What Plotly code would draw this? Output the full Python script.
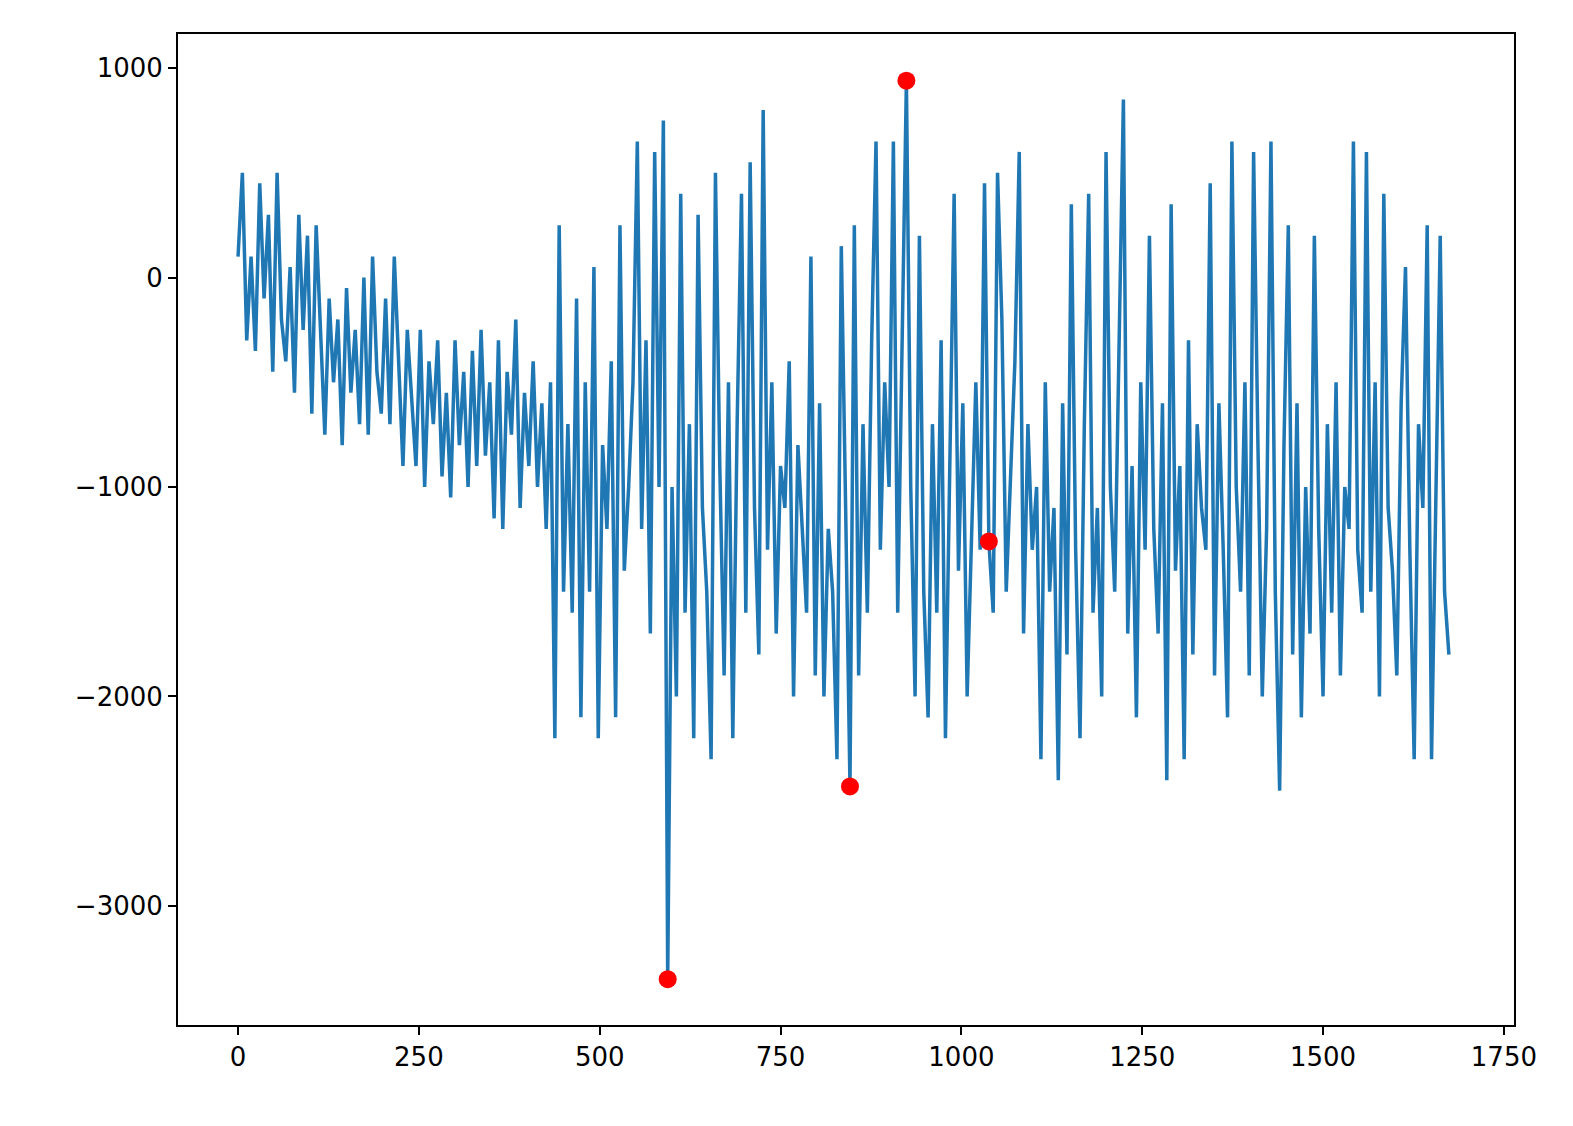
import plotly.graph_objs as go

STEP = 6
signal = [
    100, 500, -300, 100, -350, 450, -100, 300, -450, 500, -200, -400, 50, -550, 300, -250, 200, -650, 250, -300,
    -750, -100, -500, -200, -800, -50, -550, -250, -700, 0, -750, 100, -450, -650, -100, -700, 100, -400, -900, -250,
    -600, -900, -250, -1000, -400, -700, -300, -950, -550, -1050, -300, -800, -450, -1000, -350, -900, -250, -850, -500, -1150,
    -300, -1200, -450, -750, -200, -1100, -550, -900, -400, -1000, -600, -1200, -500, -2200, 250, -1500, -700, -1600, -100, -2100,
    -500, -1500, 50, -2200, -800, -1200, -400, -2100, 250, -1400, -1000, -500, 650, -1200, -300, -1700, 600, -1000, 750, -3350,
    -1000, -2000, 400, -1600, -700, -2200, 300, -1100, -1500, -2300, 500, -900, -1900, -500, -2200, -700, 400, -1600, 550, -1100,
    -1800, 800, -1300, -500, -1700, -900, -1100, -400, -2000, -800, -1200, -1600, 100, -1900, -600, -2000, -1200, -1500, -2300, 150,
    -1100, -2430, 250, -1900, -700, -1600, -300, 650, -1300, -500, -1000, 650, -1600, -300, 940, -1000, -2000, 200, -1500, -2100,
    -700, -1600, -300, -2200, -1000, 400, -1400, -600, -2000, -1200, -500, -1300, 450, -1260, -1600, 500, -200, -1500, -1000, -400,
    600, -1700, -700, -1300, -1000, -2300, -500, -1500, -1100, -2400, -600, -1800, 350, -1300, -2200, -700, 400, -1600, -1100, -2000,
    600, -1000, -1500, -400, 850, -1700, -900, -2100, -500, -1300, 200, -1200, -1700, -600, -2400, 350, -1400, -900, -2300, -300,
    -1800, -700, -1100, -1300, 450, -1900, -600, -1300, -2100, 650, -1000, -1500, -500, -1900, 600, -800, -2000, -1200, 650, -1500,
    -2450, -800, 250, -1800, -600, -2100, -1000, -1700, 200, -1200, -2000, -700, -1600, -500, -1900, -1000, -1200, 650, -1300, -1600,
    600, -1500, -500, -2000, 400, -1100, -1400, -1900, -600, 50, -1300, -2300, -700, -1100, 250, -2300, -1000, 200, -1500, -1800,
]
x = list(range(0, len(signal) * STEP, STEP))

# highlighted samples (indices into signal)
marked = [99, 141, 154, 173]

axis = dict(
    showgrid=False, zeroline=False, showline=True, linecolor='black', linewidth=2,
    mirror=True, ticks='outside', ticklen=8, tickwidth=2, tickcolor='black',
    tickfont=dict(family='DejaVu Sans', size=26, color='black'),
)

fig = go.Figure(
    data=[
        go.Scatter(
            x=x, y=signal, mode='lines',
            line=dict(color='#1f77b4', width=3.5),
        ),
        go.Scatter(
            x=[x[i] for i in marked], y=[signal[i] for i in marked], mode='markers',
            marker=dict(color='red', size=18),
        ),
    ],
    layout=go.Layout(
        width=1573, height=1126,
        margin=dict(l=170, r=67, t=26, b=109),
        paper_bgcolor='white', plot_bgcolor='white',
        showlegend=False,
        xaxis=dict(axis, range=[-83, 1764], tickvals=[0, 250, 500, 750, 1000, 1250, 1500, 1750]),
        yaxis=dict(axis, range=[-3569, 1163], tickvals=[1000, 0, -1000, -2000, -3000]),
    ),
)

fig.write_html("out.html")
